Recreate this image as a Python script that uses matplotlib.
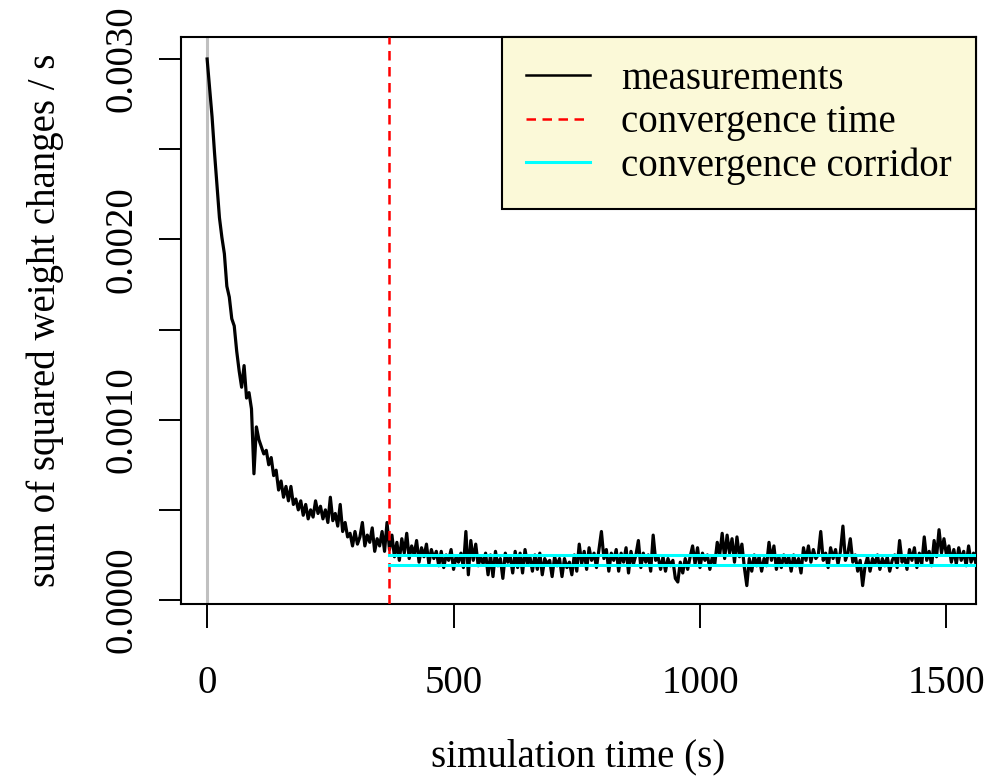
import numpy as np
import matplotlib
matplotlib.use("Agg")
import matplotlib.pyplot as plt
from matplotlib.lines import Line2D

plt.rcParams["font.family"] = ["Liberation Serif", "DejaVu Serif"]

# measurements (units of 1e-4), one value every 5 s starting at t = 0
decay = [30.0, 28.4, 26.8, 24.8, 23.0, 21.2, 20.1, 19.2, 17.4, 16.8,
         15.6, 15.2, 13.8, 12.7, 11.8, 13.0, 11.2, 11.5, 10.6, 7.0,
         9.6, 8.9, 8.5, 8.1, 8.3, 7.5, 7.9, 6.9, 7.2, 6.1,
         6.6, 5.7, 6.3, 5.5, 6.3, 5.3, 5.6, 5.0, 5.5, 4.7,
         5.3, 4.5, 5.0, 4.6, 5.5, 4.8, 5.2, 4.5, 5.0, 4.3,
         5.7, 4.4, 4.8, 4.1, 5.3, 3.8, 4.3, 3.5, 3.7, 3.0,
         3.8, 3.1, 3.5, 4.3, 3.0, 3.6, 3.2, 4.0, 2.7, 3.4,
         3.0, 3.8, 2.7, 4.3, 2.8]
plateau = [3.6, 2.4, 3.2, 2.2, 3.4, 2.6, 3.7, 2.3, 3.0, 2.5,
           3.3, 2.1, 2.9, 2.4, 3.1, 2.0, 2.8, 2.3, 2.7, 1.9,
           2.7, 1.8, 2.5, 2.2, 2.8, 1.7, 2.4, 2.1, 2.6, 1.8,
           3.8, 1.4, 3.3, 2.2, 3.1, 1.9, 2.4, 2.0, 2.6, 1.4,
           2.5, 1.3, 2.7, 1.9, 2.3, 1.2, 2.6, 2.1, 2.4, 1.5,
           2.7, 1.8, 2.6, 1.5, 2.8, 2.0, 2.4, 1.6, 2.5, 1.7,
           2.6, 1.4, 2.3, 2.0, 2.2, 1.3, 2.4, 1.9, 2.3, 1.3,
           2.3, 1.8, 2.1, 1.4, 2.5, 1.6, 3.1, 2.0, 2.7, 1.7,
           2.9, 2.2, 2.6, 1.8, 2.8, 3.8, 2.3, 2.8, 1.6, 2.6,
           2.2, 2.8, 1.6, 2.6, 2.1, 2.9, 1.5, 2.7, 2.0, 2.5,
           3.3, 1.8, 2.6, 2.1, 2.5, 1.6, 3.6, 2.2, 2.4, 1.7,
           2.4, 1.6, 2.3, 1.9, 2.2, 1.2, 1.0, 2.1, 1.5, 2.3,
           1.7, 2.4, 3.0, 2.0, 2.9, 1.8, 2.6, 2.2, 2.5, 1.7,
           2.4, 2.0, 3.2, 2.5, 3.7, 2.3, 3.6, 2.6, 3.4, 2.1,
           3.5, 2.4, 3.1, 1.8, 0.8, 2.3, 1.6, 2.5, 1.9, 2.4,
           1.6, 2.3, 1.9, 3.2, 2.2, 3.0, 1.7, 2.4, 1.8, 2.5,
           2.0, 2.4, 1.6, 2.5, 1.9, 2.3, 1.5, 2.9, 2.2, 3.0,
           2.1, 2.8, 2.3, 2.5, 3.8, 2.2, 2.6, 1.8, 2.9, 2.3,
           2.8, 2.0, 2.7, 4.1, 2.2, 2.6, 3.4, 2.1, 2.5, 1.6,
           2.2, 0.8, 1.9, 2.4, 1.6, 2.3, 2.0, 2.5, 1.7, 2.3,
           1.9, 2.4, 1.6, 2.2, 2.5, 1.8, 3.3, 2.1, 2.4, 1.7,
           2.8, 2.2, 2.9, 1.8, 2.6, 2.0, 3.5, 2.2, 2.7, 1.9,
           3.3, 2.4, 3.9, 2.6, 3.4, 2.5, 3.0, 2.1, 2.8, 2.0,
           2.9, 2.2, 2.7, 1.9, 3.0, 2.1, 2.6, 2.0]
step = 5
conv_time = 370
corridor = [0.000194, 0.000250]
xticks = [0, 500, 1000, 1500]
yticks = [0.0, 0.0005, 0.0010, 0.0015, 0.0020, 0.0025, 0.0030]
ylabels = ["0.0000", "", "0.0010", "", "0.0020", "", "0.0030"]

values = np.array(decay + plateau) * 1e-4
t = np.arange(len(values)) * step

fig = plt.figure(figsize=(9.86, 7.78), dpi=100)
ax = fig.add_axes([181/986, 1-604/778, 795/986, 567/778])
FS = 28

ax.axvline(0, color="#c0c0c0", lw=2.2, zorder=1)
ax.plot(t, values, color="black", lw=2.3, zorder=2)
ax.axvline(conv_time, color="red", lw=1.8, ls=(0, (3.8, 2.6)), zorder=3)
for c in corridor:
    ax.plot([conv_time, 1600], [c, c], color="cyan", lw=2.2, zorder=4)

ax.set_xlim(-53, 1560)
ax.set_ylim(-0.000022, 0.003122)
ax.set_xticks(xticks)
ax.set_xticklabels([str(x) for x in xticks])
ax.set_yticks(yticks)
ax.set_yticklabels(ylabels, rotation=90, va="center")
ax.tick_params(axis="x", length=17, width=1.4, pad=27, labelsize=FS)
ax.tick_params(axis="y", length=16, width=1.4, pad=13, labelsize=FS)
for s in ax.spines.values():
    s.set_linewidth(1.5)

ax.set_xlabel("simulation time (s)", fontsize=FS)
ax.xaxis.set_label_coords(0.5, -0.27)
ax.xaxis.label.set_va("center")
ax.set_ylabel("sum of squared weight changes / s", fontsize=FS)
ax.yaxis.set_label_coords(-0.171, 0.5)
ax.yaxis.label.set_va("center")

handles = [Line2D([], [], color="black", lw=1.8),
           Line2D([], [], color="red", lw=1.8, ls=(0, (3.8, 2.6))),
           Line2D([], [], color="cyan", lw=2.2)]
leg = ax.legend(handles, ["measurements", "convergence time", "convergence corridor"],
                loc="upper right", borderaxespad=0, fontsize=FS, fancybox=False,
                framealpha=1, facecolor="#fbf9d8", edgecolor="black",
                handlelength=1.65, handletextpad=0.8, borderpad=0.62, labelspacing=0.16)
leg.get_frame().set_linewidth(1.5)
leg.set_zorder(10)

fig.savefig("out.png", dpi=100)
